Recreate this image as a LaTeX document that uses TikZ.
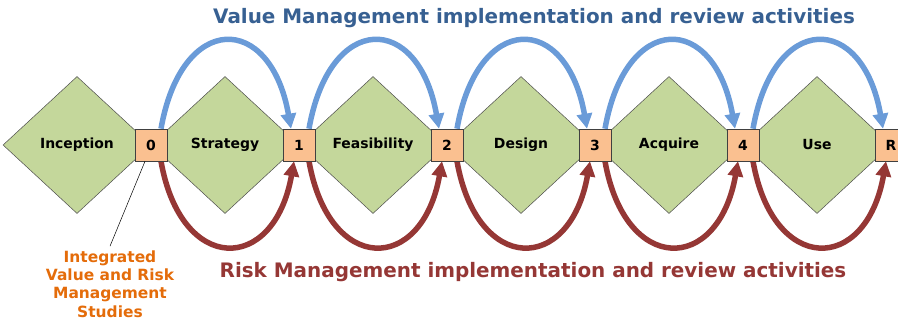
\documentclass[tikz,border=0pt]{standalone}
\usepackage{fontspec}
\setmainfont{DejaVu Sans}
\usepackage{tikz}
\usetikzlibrary{shapes.geometric,arrows.meta}

\definecolor{stagegreen}{HTML}{C4D79B}
\definecolor{gateorange}{HTML}{FAC090}
\definecolor{valblue}{HTML}{6A9BD8}
\definecolor{valtitle}{HTML}{376092}
\definecolor{riskred}{HTML}{953735}
\definecolor{noteorange}{HTML}{E46C0A}

\tikzset{
  stage/.style={diamond,draw=black!70,line width=0.5bp,fill=stagegreen,minimum width=148bp,minimum height=137bp,inner sep=0pt,font=\fontsize{14}{16}\selectfont\bfseries},
  gate/.style={rectangle,draw=black!75,line width=0.6bp,fill=gateorange,minimum size=32bp,inner sep=0pt,font=\fontsize{14}{16}\selectfont\bfseries},
  valarc/.style={line width=5.5bp,draw=valblue,-{Triangle[length=15bp,width=15bp]}},
  riskarc/.style={line width=5.5bp,draw=riskred,-{Triangle[length=15bp,width=15bp]}}
}

\begin{document}
\begin{tikzpicture}[x=1bp,y=1bp]
\useasboundingbox (0,0) rectangle (898,322);

\node (S0) at (77,177)[stage] {Inception};
\node (S1) at (225,177)[stage] {Strategy};
\node (S2) at (373,177)[stage] {Feasibility};
\node (S3) at (521,177)[stage] {Design};
\node (S4) at (669,177)[stage] {Acquire};
\node (S5) at (817,177)[stage] {Use};

\node (G0) at (151,177)[gate] {0};
\node (G1) at (299,177)[gate] {1};
\node (G2) at (447,177)[gate] {2};
\node (G3) at (595,177)[gate] {3};
\node (G4) at (743,177)[gate] {4};
\node (G5) at (891,177)[gate] {R};

% value management loops
\draw [valarc] ([xshift=10bp]G0.north) to[out=80,in=100,looseness=2.34] ([xshift=-8bp]G1.north);
\draw [valarc] ([xshift=10bp]G1.north) to[out=80,in=100,looseness=2.34] ([xshift=-8bp]G2.north);
\draw [valarc] ([xshift=10bp]G2.north) to[out=80,in=100,looseness=2.34] ([xshift=-8bp]G3.north);
\draw [valarc] ([xshift=10bp]G3.north) to[out=80,in=100,looseness=2.34] ([xshift=-8bp]G4.north);
\draw [valarc] ([xshift=10bp]G4.north) to[out=80,in=100,looseness=2.34] ([xshift=-8bp]G5.north);

% risk management loops
\draw [riskarc] ([xshift=10bp]G0.south) to[out=-80,in=-100,looseness=2.22] ([xshift=-5bp]G1.south);
\draw [riskarc] ([xshift=10bp]G1.south) to[out=-80,in=-100,looseness=2.22] ([xshift=-5bp]G2.south);
\draw [riskarc] ([xshift=10bp]G2.south) to[out=-80,in=-100,looseness=2.22] ([xshift=-5bp]G3.south);
\draw [riskarc] ([xshift=10bp]G3.south) to[out=-80,in=-100,looseness=2.22] ([xshift=-5bp]G4.south);
\draw [riskarc] ([xshift=10bp]G4.south) to[out=-80,in=-100,looseness=2.22] ([xshift=-5bp]G5.south);

% gates on top of the loops
\node at (G0)[gate] {0};
\node at (G1)[gate] {1};
\node at (G2)[gate] {2};
\node at (G3)[gate] {3};
\node at (G4)[gate] {4};
\node at (G5)[gate] {R};

\node (VMtitle) at (534,304)[text=valtitle,font=\fontsize{20}{24}\selectfont\bfseries] {Value Management implementation and review activities};
\node (RMtitle) at (533,50)[text=riskred,font=\fontsize{20}{24}\selectfont\bfseries] {Risk Management implementation and review activities};

\node (studies) at (110,38)[text=noteorange,align=center,inner sep=1bp,font=\fontsize{15.5}{18.5}\selectfont\bfseries] {Integrated\\Value and Risk\\Management\\Studies};
\draw [line width=0.5bp] ([xshift=-6bp]G0.south) -- ([yshift=3bp]studies.north);
\end{tikzpicture}
\end{document}
